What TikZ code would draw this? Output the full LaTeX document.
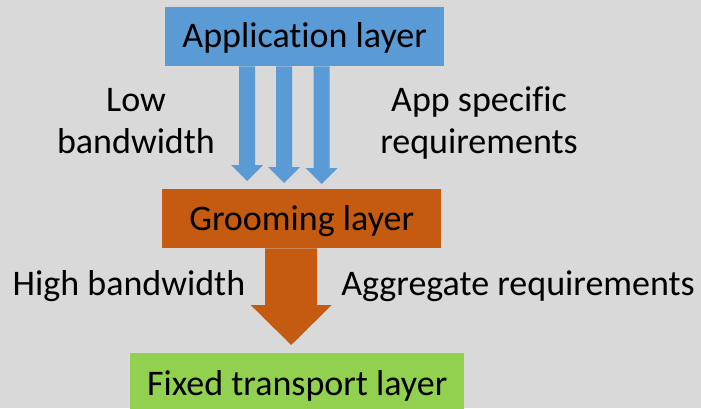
\documentclass[tikz,border=0pt]{standalone}
\usepackage{fontspec}
\setmainfont{Carlito}[Ligatures=NoCommon]
\usetikzlibrary{calc}

\definecolor{bgGray}{HTML}{D9D9D9}
\definecolor{appBlue}{HTML}{5B9BD5}
\definecolor{groomOrange}{HTML}{C55A11}
\definecolor{fixedGreen}{HTML}{92D050}

% Block arrow pointing down: colour, start, end, shaft half width, head half width, head length
\newcommand\blockarrow[6]{%
  \fill[#1] let \p1=(#2), \p2=(#3) in
    (\x1-#4,\y1) -- (\x1+#4,\y1) -- (\x1+#4,\y2+#6) -- (\x1+#5,\y2+#6)
    -- (\x1,\y2) -- (\x1-#5,\y2+#6) -- (\x1-#4,\y2+#6) -- cycle;}

\begin{document}
\begin{tikzpicture}[x=1pt,y=-1pt,
    every node/.style={font=\fontsize{36}{42}\selectfont, inner sep=0pt},
    layerbox/.style={anchor=north west, minimum width=#1, align=center},
    caption/.style={anchor=base, align=center}]
  \fill[bgGray] (0,0) rectangle (701,408);
  \useasboundingbox (0,0) rectangle (701,408);

  % layer boxes
  \node[layerbox=279pt, fill=appBlue, text height=40pt, text depth=19pt]
    (app) at (165,7) {Application layer};
  \node[layerbox=279pt, fill=groomOrange, text height=41pt, text depth=18pt]
    (groom) at (162,189) {Grooming layer};
  \node[layerbox=334pt, fill=fixedGreen, text height=42pt, text depth=30pt]
    (fixed) at (130,353) {Fixed transport layer};

  % three thin arrows from the application layer
  \blockarrow{appBlue}{[xshift=-57.5pt]app.south}{[yshift=8pt]groom.north}{8pt}{16pt}{16pt}
  \blockarrow{appBlue}{[xshift=-20.5pt]app.south}{[yshift=6pt]groom.north}{8pt}{16pt}{16pt}
  \blockarrow{appBlue}{[xshift=17pt]app.south}{[yshift=5pt]groom.north}{8pt}{16pt}{16pt}

  % one wide arrow from the grooming layer
  \blockarrow{groomOrange}{[xshift=-10.5pt]groom.south}{[yshift=8pt]fixed.north}{26pt}{40.5pt}{40pt}

  % labels (base anchor sits on the last line)
  \node[caption] (lowbw) at (136,153) {Low\\bandwidth};
  \node[caption] (appreq) at (479,153) {App specific\\requirements};
  \node[caption] (highbw) at (129,295) {High bandwidth};
  \node[caption] (aggreq) at (518,295) {Aggregate requirements};
\end{tikzpicture}
\end{document}
